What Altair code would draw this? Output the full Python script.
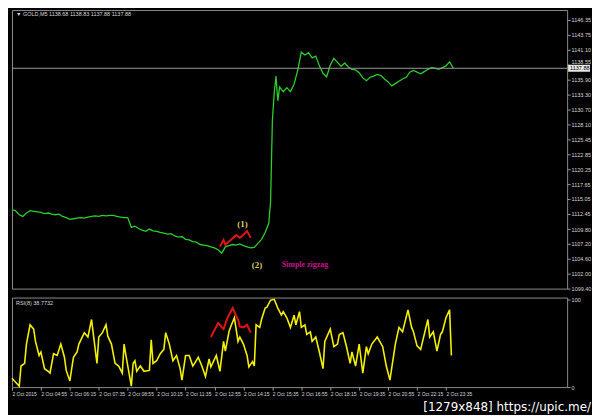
import altair as alt
import pandas as pd

# ---------------- data ----------------
price_bar = [0, 2, 4, 6, 8, 10, 12, 14, 16, 18, 20, 22, 24, 26, 28, 30, 32, 34, 36, 38,
             40, 42, 44, 46, 48, 50, 52, 54, 56, 58, 60, 62, 64, 66, 68, 70, 72, 74, 76, 78,
             80, 82, 84, 86, 88, 90, 92, 94, 96, 98, 100, 102, 104, 106, 108, 110, 112, 114,
             116, 118, 120, 122, 124, 126, 128, 130, 132, 134, 136, 138, 140, 142, 143, 144,
             145, 146, 147, 148, 150, 152, 154, 156, 158, 160, 162, 164, 166, 168, 170, 172,
             174, 176, 178, 180, 182, 184, 186, 188, 190, 192, 194, 196, 198, 200, 202, 204,
             206, 208, 210, 212, 214, 216, 218, 220, 222, 224, 226, 228, 230, 232, 234, 236,
             238, 240, 242, 244]
price_val = [1113.2, 1113.0, 1112.3, 1112.0, 1112.6, 1113.0, 1112.9, 1112.8, 1112.7, 1112.5,
             1112.6, 1112.4, 1112.3, 1112.4, 1112.0, 1111.8, 1111.5, 1111.6, 1111.7, 1111.8,
             1111.7, 1111.9, 1112.0, 1112.1, 1112.0, 1112.2, 1112.1, 1112.2, 1112.2, 1112.0,
             1111.9, 1111.8, 1111.8, 1110.1, 1110.3, 1109.9, 1109.6, 1109.4, 1109.8, 1109.5,
             1109.4, 1109.2, 1109.1, 1108.9, 1109.0, 1108.6, 1108.4, 1108.5, 1108.0, 1107.9,
             1107.6, 1107.5, 1107.1, 1107.0, 1106.9, 1106.7, 1106.5, 1106.2, 1105.6, 1106.7,
             1106.9, 1107.1, 1107.0, 1107.2, 1106.9, 1106.7, 1106.5, 1106.6, 1107.3, 1108.0,
             1109.2, 1110.8, 1114.5, 1128.7, 1133.5, 1136.5, 1132.2, 1134.6, 1133.8, 1134.5,
             1133.8, 1135.1, 1137.5, 1140.7, 1140.2, 1140.6, 1139.7, 1140.0, 1138.3, 1137.0,
             1136.4, 1138.4, 1139.6, 1138.9, 1138.2, 1138.8, 1138.1, 1137.7, 1137.6, 1137.1,
             1136.2, 1135.7, 1136.3, 1136.5, 1136.8, 1136.6, 1136.0, 1135.5, 1134.8, 1135.2,
             1135.6, 1136.0, 1136.3, 1137.2, 1137.5, 1137.2, 1136.9, 1137.3, 1137.7, 1138.0,
             1137.9, 1137.7, 1138.0, 1138.3, 1139.0, 1137.9]

zz_price_bar = [115, 117, 118, 124, 126, 130, 132]
zz_price_val = [1106.73, 1107.92, 1107.06, 1108.77, 1108.26, 1109.45, 1108.26]

rsi_bar = [0, 4, 5, 7, 8, 10, 12, 13, 15, 16, 18, 20, 21, 23, 25, 27, 29, 30, 32, 34, 36, 37,
           40, 42, 44, 45, 47, 48, 50, 52, 53, 55, 57, 59, 61, 62, 63, 66, 67, 68, 69, 71, 73,
           76, 77, 78, 80, 82, 84, 85, 87, 89, 91, 93, 94, 96, 98, 100, 101, 103, 105, 107,
           109, 110, 113, 115, 117, 118, 120, 121, 123, 125, 126, 128, 130, 131, 133, 134,
           135, 137, 138, 140, 141, 143, 145, 147, 149, 150, 152, 154, 156, 157, 159, 160,
           162, 163, 165, 166, 168, 170, 172, 173, 176, 178, 180, 181, 183, 185, 187, 188,
           190, 192, 194, 196, 197, 199, 202, 205, 207, 209, 212, 214, 216, 219, 221, 222,
           224, 226, 228, 230, 231, 233, 235, 237, 238, 240, 242, 243]
rsi_val = [10, 1, 24, 27, 49, 71, 66, 52, 36, 40, 21, 18, 16, 38, 36, 49, 34, 19, 7, 34, 40, 49,
           62, 57, 77, 60, 27, 57, 62, 71, 58, 49, 27, 24, 16, 49, 36, 1, 27, 30, 18, 24, 18,
           19, 54, 27, 30, 38, 43, 62, 49, 30, 36, 21, 8, 36, 36, 24, 27, 34, 24, 12,
           32, 23, 36, 18, 52, 41, 63, 69, 79, 52, 57, 49, 36, 23, 29, 24,
           71, 68, 77, 90, 91, 99, 100, 90, 82, 86, 79, 68, 82, 71, 86, 68,
           71, 60, 63, 52, 57, 40, 21, 52, 66, 46, 49, 60, 62, 46, 27, 40,
           24, 49, 16, 46, 38, 49, 57, 46, 24, 8, 49, 68, 63, 88, 68, 63,
           47, 43, 60, 77, 57, 63, 41, 60, 63, 79, 88, 36]

zz_rsi_bar = [110, 114, 117, 119, 122, 125, 126, 128, 130, 132]
zz_rsi_val = [57, 73, 66, 78, 90, 77, 69, 68, 71, 62]

price_ticks = [1099.40, 1102.00, 1104.60, 1107.20, 1109.80, 1112.45, 1115.05, 1117.65,
               1120.25, 1122.85, 1125.45, 1128.10, 1130.70, 1133.30, 1135.90, 1138.55,
               1141.10, 1143.75, 1146.35]
time_ticks = [0, 16, 32, 48, 64, 80, 96, 112, 128, 144, 160, 176, 192, 208, 224, 240]
time_labels = ["2 Oct 2015", "2 Oct 04:55", "2 Oct 06:15", "2 Oct 07:35", "2 Oct 08:55",
               "2 Oct 10:15", "2 Oct 11:35", "2 Oct 12:55", "2 Oct 14:15", "2 Oct 15:35",
               "2 Oct 16:55", "2 Oct 18:15", "2 Oct 19:35", "2 Oct 20:55", "2 Oct 22:15",
               "2 Oct 23:35"]
last_price = 1137.88
header_text = "▼ GOLD,M5  1138.68 1138.83 1137.88 1137.88"
rsi_text = "RSI(8) 38.7732"
watermark = "[1279x848] https://upic.me/"

# ---------------- layout ----------------
W = 558
H1 = 280
H2 = 90
FS = 5.5
LABEL_C = "#d8d8d8"

price_df = pd.DataFrame({"bar": price_bar, "price": price_val})
zzp_df = pd.DataFrame({"bar": zz_price_bar, "price": zz_price_val})
rsi_df = pd.DataFrame({"bar": rsi_bar, "rsi": rsi_val})
zzr_df = pd.DataFrame({"bar": zz_rsi_bar, "rsi": zz_rsi_val})
one = pd.DataFrame({"k": [0]})

xscale = alt.Scale(domain=[0, 307], nice=False, zero=False)
pscale = alt.Scale(domain=[1099.4, 1148.05], nice=False, zero=False)
rscale = alt.Scale(domain=[0, 102], nice=False, zero=False)

x_top = alt.X("bar:Q", scale=xscale, axis=None)
y_price = alt.Y("price:Q", scale=pscale,
                axis=alt.Axis(orient="right", values=price_ticks, tickCount=100, format=".2f",
                              labelFontSize=FS, labelColor=LABEL_C, tickColor="#9a9a9a",
                              tickSize=3, labelPadding=1, domain=False, grid=False,
                              title=None, labelFont="Liberation Sans", labelOverlap=False,
                              labelBaseline={"condition": {"test": "datum.value > 1138 && datum.value < 1139",
                                                           "value": "bottom"},
                                             "value": "middle"}))

green = alt.Chart(price_df).mark_line(color="#2ccd2c", strokeWidth=1.3).encode(x=x_top, y=y_price)
hline = alt.Chart(one).mark_rule(color="#9a9a9a", strokeWidth=1).encode(
    y=alt.datum(last_price, scale=pscale))
red1 = alt.Chart(zzp_df).mark_line(color="#e01414", strokeWidth=2).encode(
    x=alt.X("bar:Q", scale=xscale), y=alt.Y("price:Q", scale=pscale))

t1 = alt.Chart(one).mark_text(text="(1)", color="#d8c860", font="Liberation Serif",
                              fontWeight="bold", fontSize=9).encode(
    x=alt.datum(127.5), y=alt.datum(1110.6))
t2 = alt.Chart(one).mark_text(text="(2)", color="#d8c860", font="Liberation Serif",
                              fontWeight="bold", fontSize=9).encode(
    x=alt.datum(135.5), y=alt.datum(1103.5))
t3 = alt.Chart(one).mark_text(text="Simple zigzag", color="#c8148c", font="Liberation Serif",
                              fontWeight="bold", fontSize=8).encode(
    x=alt.datum(162), y=alt.datum(1103.5))
hdr = alt.Chart(one).mark_text(text=header_text, color=LABEL_C, fontSize=FS, align="left",
                               baseline="top", font="Liberation Sans").encode(
    x=alt.value(4), y=alt.value(2))
box = alt.Chart(one).mark_rect(color="#e8e8e8", width=22, height=7).encode(
    x=alt.value(W + 12), y=alt.datum(last_price))
boxt = alt.Chart(one).mark_text(text=f"{last_price:.2f}", color="#000000", fontSize=FS,
                                align="left", font="Liberation Sans").encode(
    x=alt.value(W + 3), y=alt.datum(last_price))

top = alt.layer(green, hline, red1, t1, t2, t3, hdr, box, boxt).properties(width=W, height=H1)

label_expr = "[" + ",".join(f"'{s}'" for s in time_labels) + "][round(datum.value/16)]"
x_bot = alt.X("bar:Q", scale=xscale,
              axis=alt.Axis(values=time_ticks, tickCount=100, labelExpr=label_expr,
                            labelAlign="left", labelFontSize=5, labelColor=LABEL_C,
                            tickColor="#9a9a9a", tickSize=3, labelPadding=1, domain=False,
                            grid=False, title=None, labelFont="Liberation Sans",
                            labelOverlap=False, labelFlush=False))
y_rsi = alt.Y("rsi:Q", scale=rscale,
              axis=alt.Axis(orient="right", values=[0, 100], tickCount=100, format="d",
                            labelFontSize=FS, labelColor=LABEL_C, tickColor="#9a9a9a",
                            tickSize=3, labelPadding=1, domain=False, grid=False, title=None,
                            labelFont="Liberation Sans"))

yellow = alt.Chart(rsi_df).mark_line(color="#f2f000", strokeWidth=1.6).encode(x=x_bot, y=y_rsi)
red2 = alt.Chart(zzr_df).mark_line(color="#e01414", strokeWidth=2).encode(
    x=alt.X("bar:Q", scale=xscale), y=alt.Y("rsi:Q", scale=rscale))
rhdr = alt.Chart(one).mark_text(text=rsi_text, color=LABEL_C, fontSize=FS, align="left",
                                baseline="top", font="Liberation Sans").encode(
    x=alt.value(4), y=alt.value(3))
wm = alt.Chart(one).mark_text(text=watermark, color="#ffffff", fontSize=12, align="right",
                              baseline="bottom", font="DejaVu Sans").encode(
    x=alt.value(W + 24), y=alt.value(H2 + 27))

bottom = alt.layer(yellow, red2, rhdr, wm).properties(width=W, height=H2)

chart = alt.vconcat(top, bottom, spacing=3).properties(
    background="#000000", padding={"left": 0, "top": 0, "right": 0, "bottom": 0}
).configure_view(stroke="#8c8c8c", strokeWidth=1).configure_concat(spacing=3)

chart.save("out.html", embed_options={"renderer": "svg", "actions": False})
